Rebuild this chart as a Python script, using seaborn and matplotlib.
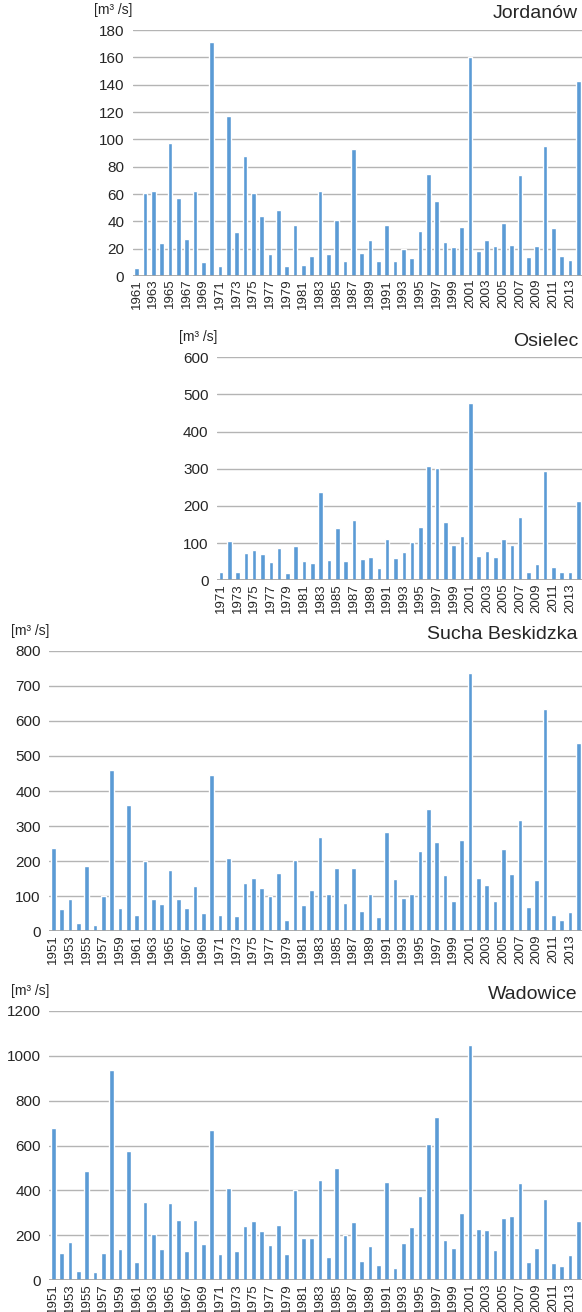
import matplotlib
matplotlib.use('Agg')
import matplotlib.pyplot as plt
import seaborn as sns

sns.set_theme(style='white')
plt.rcParams['font.family'] = ['Liberation Sans', 'DejaVu Sans']

# Annual maximum discharge [m3/s]
jordanow_years = list(range(1961, 2015))
jordanow = [6, 61, 62, 24, 97, 57, 27, 62, 10, 171,
            7, 117, 32, 88, 61, 44, 16, 48, 7, 37,
            8, 15, 62, 16, 41, 11, 93, 17, 26, 11,
            37, 11, 20, 13, 33, 75, 55, 25, 21, 36,
            160, 18, 26, 22, 39, 23, 74, 14, 22, 95,
            35, 15, 12, 143]

osielec_years = list(range(1971, 2015))
osielec = [21, 106, 23, 74, 82, 71, 50, 86, 19, 93,
           53, 46, 237, 55, 140, 52, 162, 57, 63, 33,
           111, 60, 77, 104, 143, 308, 302, 158, 95, 119,
           478, 66, 79, 62, 111, 94, 170, 21, 43, 293,
           37, 22, 23, 214]

sucha_years = list(range(1951, 2015))
sucha = [237, 63, 91, 24, 186, 19, 100, 459, 67, 361,
         46, 200, 93, 78, 174, 93, 67, 129, 52, 447,
         46, 209, 45, 139, 152, 123, 101, 167, 32, 202,
         75, 117, 270, 107, 180, 80, 181, 59, 106, 40,
         282, 150, 94, 105, 230, 348, 256, 160, 85, 260,
         737, 152, 131, 85, 235, 162, 317, 69, 147, 635,
         47, 32, 54, 538]

wadowice_years = list(range(1951, 2015))
wadowice = [679, 120, 172, 43, 485, 36, 120, 935, 139, 576,
            80, 347, 205, 138, 346, 270, 132, 267, 160, 668,
            117, 410, 129, 243, 264, 220, 156, 246, 119, 402,
            187, 187, 445, 104, 500, 200, 258, 88, 151, 67,
            436, 56, 168, 239, 374, 607, 726, 181, 144, 298,
            1049, 230, 226, 135, 277, 285, 433, 82, 144, 362,
            79, 62, 113, 266]

W, H = 582, 1312
BAR = '#5b9bd5'
GRID = '#b4b4b4'
TXT = '#262626'

fig = plt.figure(figsize=(W / 100, H / 100), dpi=100)


def add_panel(left, top, bottom, years, values, ymax, ystep, title):
    right = 582.5
    ax = fig.add_axes([left / W, 1 - bottom / H, (right - left) / W, (bottom - top) / H])
    sns.barplot(x=years, y=values, native_scale=True, color=BAR, width=0.55,
                saturation=1, ax=ax, zorder=3)
    ax.set_xlim(years[0] - 0.5, years[-1] + 0.5)
    ax.set_ylim(0, ymax)
    ax.set_yticks(range(0, ymax + 1, ystep))
    ax.set_xticks(years[::2])
    ax.set_xticklabels([str(y) for y in years[::2]], rotation=90, fontsize=9.5, color=TXT)
    ax.tick_params(axis='y', labelsize=11, colors=TXT, length=0, pad=6)
    ax.tick_params(axis='x', length=0, pad=2)
    ax.yaxis.grid(True, color=GRID, linewidth=1, zorder=0)
    ax.axhline(0, color='#a0a0a0', linewidth=1.2, zorder=4)
    ax.set_axisbelow(True)
    for s in ax.spines.values():
        s.set_visible(False)
    ax.set_xlabel('')
    ax.set_ylabel('')
    ax.text(0.99, 1 + 16 / (bottom - top), title, transform=ax.transAxes,
            ha='right', va='center', fontsize=14, color=TXT)
    ax.text(-38 / (right - left), 1 + 20 / (bottom - top), '[m³ /s]',
            transform=ax.transAxes, ha='left', va='center', fontsize=10, color=TXT)
    return ax


add_panel(132.5, 30, 276, jordanow_years, jordanow, 180, 20, 'Jordanów')
add_panel(216.8, 357.3, 580.3, osielec_years, osielec, 600, 100, 'Osielec')
add_panel(49.2, 650.7, 931.3, sucha_years, sucha, 800, 100, 'Sucha Beskidzka')
add_panel(49.2, 1010.7, 1280.3, wadowice_years, wadowice, 1200, 200, 'Wadowice')

fig.savefig('out.png', dpi=100, facecolor='white')
